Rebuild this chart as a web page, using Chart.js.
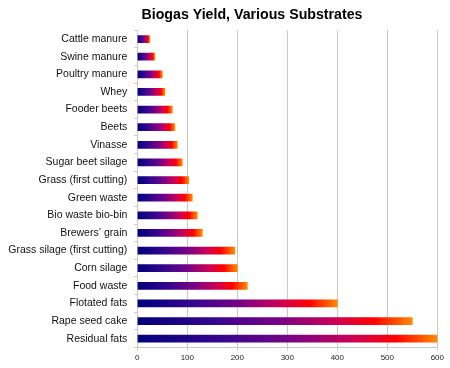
<!DOCTYPE html>
<html>
<head>
<meta charset="utf-8">
<script src="https://cdn.jsdelivr.net/npm/chart.js@4/dist/chart.umd.min.js"></script>
<style>
html,body{margin:0;padding:0;background:#fff;}
#wrap{width:450px;height:368px;}
</style>
</head>
<body>
<div id="wrap"><canvas id="c" width="450" height="368"></canvas></div>
<script>
const chartTitle = 'Biogas Yield, Various Substrates';
const categories = [
  'Cattle manure', 'Swine manure', 'Poultry manure', 'Whey', 'Fooder beets',
  'Beets', 'Vinasse', 'Sugar beet silage', 'Grass (first cutting)', 'Green waste',
  'Bio waste bio-bin', 'Brewers\u2019 grain', 'Grass silage (first cutting)',
  'Corn silage', 'Food waste', 'Flotated fats', 'Rape seed cake', 'Residual fats'
];
const values = [25, 35, 50, 55, 70, 75, 80, 90, 103, 110, 120, 130, 195, 200, 220, 400, 550, 600];
const xMin = 0;
const xMax = 600;
const xStep = 100;

function barGradient(context) {
  const chart = context.chart;
  const xs = chart.scales && chart.scales.x;
  if (!xs || !chart.chartArea || context.raw == null) return '#800080';
  const x0 = xs.getPixelForValue(0);
  const x1 = xs.getPixelForValue(context.raw);
  const g = chart.ctx.createLinearGradient(x0, 0, x1, 0);
  g.addColorStop(0.00, '#00007c');
  g.addColorStop(0.28, '#36068f');
  g.addColorStop(0.52, '#7a0385');
  g.addColorStop(0.72, '#cc0055');
  g.addColorStop(0.86, '#ff0000');
  g.addColorStop(1.00, '#ff8a00');
  return g;
}

const titleShift = {
  id: 'titleShift',
  afterLayout(chart) {
    const t = chart.titleBlock;
    if (t) {
      t.left = 66.7;
      t.right = 437.3;
      t.width = t.right - t.left;
    }
  }
};

new Chart(document.getElementById('c'), {
  type: 'bar',
  data: {
    labels: categories,
    datasets: [{
      data: values,
      backgroundColor: barGradient,
      borderWidth: 0,
      barThickness: 7
    }]
  },
  plugins: [titleShift],
  options: {
    indexAxis: 'y',
    responsive: false,
    animation: false,
    layout: { padding: { left: 0, right: 12.7, top: 0, bottom: 0 } },
    plugins: {
      legend: { display: false },
      tooltip: { enabled: false },
      title: {
        display: true,
        text: chartTitle,
        color: '#000',
        font: { family: 'Liberation Sans', size: 14.2, weight: 'bold' },
        padding: { top: 7, bottom: 6.2 }
      }
    },
    scales: {
      x: {
        min: xMin,
        max: xMax,
        afterFit: s => { s.height = 20.5; },
        ticks: {
          stepSize: xStep,
          color: '#222',
          padding: 2,
          font: { family: 'Liberation Sans', size: 8 }
        },
        grid: { color: '#c8c8c8', lineWidth: 1, tickLength: 3, drawTicks: true },
        border: { display: true, color: '#c8c8c8' }
      },
      y: {
        afterFit: s => { s.width = 137.3; },
        ticks: {
          color: '#111',
          padding: 7,
          autoSkip: false,
          font: { family: 'Liberation Sans', size: 10.5 }
        },
        grid: { drawOnChartArea: false, drawTicks: true, tickLength: 3, color: '#c8c8c8', offset: true },
        border: { display: true, color: '#c8c8c8' }
      }
    }
  }
});
</script>
</body>
</html>
